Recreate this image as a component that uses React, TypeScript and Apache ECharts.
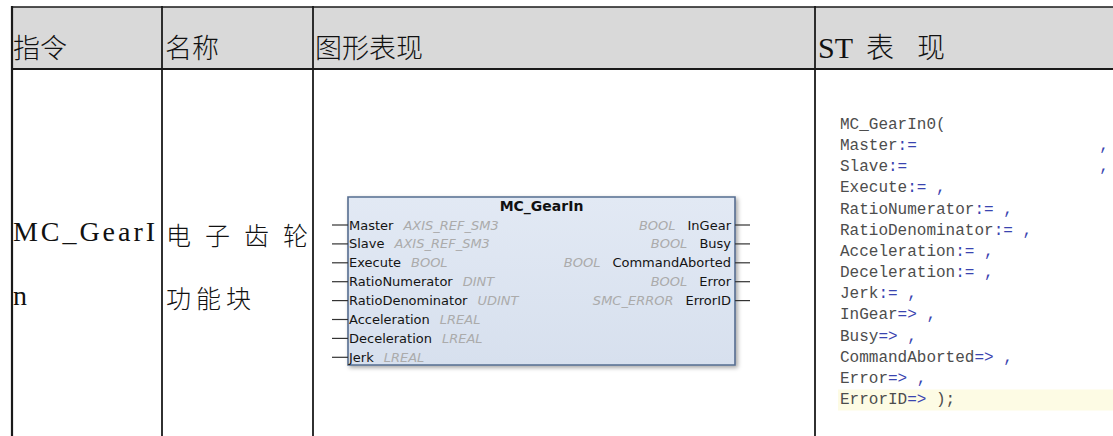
import React, { useEffect, useRef } from "react";
import * as echarts from "echarts";

// ---------- data ----------
const headerLabels = ["指令", "名称", "图形表现"];
const stHeaderParts = ["ST", "表", "现"];
const instrLines = ["MC_GearI", "n"];
const nameLines = ["电子齿轮", "功能块"];
const fbTitle = "MC_GearIn";
const inputNames = ["Master", "Slave", "Execute", "RatioNumerator", "RatioDenominator", "Acceleration", "Deceleration", "Jerk"];
const inputTypes = ["AXIS_REF_SM3", "AXIS_REF_SM3", "BOOL", "DINT", "UDINT", "LREAL", "LREAL", "LREAL"];
const outputNames = ["InGear", "Busy", "CommandAborted", "Error", "ErrorID"];
const outputTypes = ["BOOL", "BOOL", "BOOL", "BOOL", "SMC_ERROR"];
const stCall = "MC_GearIn0(";
const stParams = ["Master", "Slave", "Execute", "RatioNumerator", "RatioDenominator", "Acceleration", "Deceleration", "Jerk", "InGear", "Busy", "CommandAborted", "Error", "ErrorID"];
const stOps = [":=", ":=", ":=", ":=", ":=", ":=", ":=", ":=", "=>", "=>", "=>", "=>", "=>"];
const stGaps = ["                   ", "                    ", " ", " ", " ", " ", " ", " ", " ", " ", " ", " ", " "];
const stEnds = [",", ",", ",", ",", ",", ",", ",", ",", ",", ",", ",", ",", ");"];

// ---------- helpers ----------
const CJK = "'Noto Sans CJK SC', sans-serif";
const SERIF = "'Liberation Serif', serif";
const SANS = "'DejaVu Sans', sans-serif";
const MONO = "'Liberation Mono', monospace";

let ctx: CanvasRenderingContext2D | null = null;
function tw(text: string, font: string): number {
  if (!ctx) ctx = document.createElement("canvas").getContext("2d");
  ctx!.font = font;
  return ctx!.measureText(text).width;
}

function txt(text: string, x: number, y: number, font: string, fill: string, align = "left", extra: any = {}) {
  return {
    type: "text",
    x,
    y,
    silent: true,
    style: {
      text,
      font,
      fill,
      align,
      textAlign: align,
      verticalAlign: "middle",
      textVerticalAlign: "middle",
      ...extra,
    },
  };
}

function spread(text: string, x0: number, x1: number, y: number, font: string, fill: string) {
  const chars = Array.from(text);
  const ws = chars.map((c) => tw(c, font));
  const total = ws.reduce((a, b) => a + b, 0);
  const gap = chars.length > 1 ? (x1 - x0 - total) / (chars.length - 1) : 0;
  let x = x0;
  const out: any[] = [];
  chars.forEach((c, i) => {
    out.push(txt(c, x, y, font, fill));
    x += ws[i] + gap;
  });
  return out;
}

function spaced(text: string, x0: number, gap: number, y: number, font: string, fill: string) {
  const chars = Array.from(text);
  let x = x0;
  const out: any[] = [];
  chars.forEach((c) => {
    out.push(txt(c, x, y, font, fill));
    x += tw(c, font) + gap;
  });
  return out;
}

function line(x1: number, y1: number, x2: number, y2: number, stroke: string, lineWidth: number) {
  return { type: "line", silent: true, shape: { x1, y1, x2, y2 }, style: { stroke, lineWidth } };
}

function buildElements() {
  const els: any[] = [];
  const W = 1113;
  const H = 436;
  const tableLeft = 12;
  const top = 7;
  const headBottom = 69;
  const cols = [12, 162, 313, 815];

  // header background
  els.push({ type: "rect", silent: true, shape: { x: tableLeft, y: top, width: W - tableLeft, height: headBottom - top }, style: { fill: "#d9d9d9" } });
  // table lines
  els.push(line(tableLeft - 1, top, W, top, "#1a1a1a", 1.6));
  els.push(line(tableLeft - 1, headBottom, W, headBottom, "#1a1a1a", 1.8));
  cols.forEach((c) => els.push(line(c, top - 1, c, H, "#1a1a1a", c === 12 ? 2.2 : 1.8)));

  // header texts
  const hFont = `300 27px ${CJK}`;
  const hY = 46;
  els.push(txt(headerLabels[0], cols[0] + 1, hY, hFont, "#111"));
  els.push(txt(headerLabels[1], cols[1] + 3, hY, hFont, "#111"));
  els.push(txt(headerLabels[2], cols[2] + 2, hY, hFont, "#111"));
  els.push(txt(stHeaderParts[0], cols[3] + 3, 47, `30px ${SERIF}`, "#111"));
  els.push(txt(stHeaderParts[1], cols[3] + 51, hY, `300 28px ${CJK}`, "#111"));
  els.push(txt(stHeaderParts[2], cols[3] + 102, hY, `300 28px ${CJK}`, "#111"));

  // column 1 body
  const sFont = `28px ${SERIF}`;
  els.push(...spread(instrLines[0], 13, 155, 231.5, sFont, "#111"));
  els.push(txt(instrLines[1], 13, 295.5, sFont, "#111"));

  // column 2 body
  const cFont = `300 25px ${CJK}`;
  els.push(...spread(nameLines[0], 166, 308, 234, cFont, "#111"));
  els.push(...spaced(nameLines[1], 166, 5, 297, cFont, "#111"));

  // function block
  const bx = 348, by = 197, bw = 387, bh = 168;
  els.push({
    type: "rect",
    silent: true,
    shape: { x: bx, y: by, width: bw, height: bh },
    style: {
      fill: new echarts.graphic.LinearGradient(0, 0, 0, 1, [
        { offset: 0, color: "#e2e9f4" },
        { offset: 1, color: "#d7e0ee" },
      ]),
      stroke: "#566d90",
      lineWidth: 1.6,
      shadowBlur: 4,
      shadowOffsetX: 2,
      shadowOffsetY: 2,
      shadowColor: "rgba(0,0,0,0.35)",
    },
  });
  els.push(txt(fbTitle, bx + bw / 2, 206, `bold 14px ${SANS}`, "#111", "center"));
  const rowY0 = 225;
  const rowStep = 18.9;
  const nFont = `13px ${SANS}`;
  const tFont = `italic 13px ${SANS}`;
  inputNames.forEach((n, i) => {
    const y = rowY0 + i * rowStep;
    els.push(line(332, y, bx, y, "#333", 1.2));
    els.push(txt(n, bx + 1, y, nFont, "#141414"));
    els.push(txt(inputTypes[i], bx + 1 + tw(n, nFont) + 10, y, tFont, "#ababab"));
  });
  outputNames.forEach((n, i) => {
    const y = rowY0 + i * rowStep;
    els.push(line(bx + bw, y, 750, y, "#333", 1.2));
    els.push(txt(n, bx + bw - 4, y, nFont, "#141414", "right"));
    els.push(txt(outputTypes[i], bx + bw - 4 - tw(n, nFont) - 12, y, tFont, "#ababab", "right"));
  });

  // ST code
  const mFont = `16px ${MONO}`;
  const cx = 840;
  const cy0 = 125;
  const cStep = 21.15;
  const nameCol = "#4d4d4d";
  const opCol = "#3a44b0";
  const lastY = cy0 + stParams.length * cStep;
  els.push({ type: "rect", silent: true, shape: { x: cx - 2, y: lastY - 10.5, width: W - cx + 2, height: 21 }, style: { fill: "#fdfbe4" } });
  els.push(txt(stCall, cx, cy0, mFont, nameCol));
  stParams.forEach((p, i) => {
    const y = cy0 + (i + 1) * cStep;
    els.push(txt(p, cx, y, mFont, nameCol));
    const opX = cx + tw(p, mFont);
    els.push(txt(stOps[i], opX, y, mFont, opCol));
    const endX = opX + tw(stOps[i] + stGaps[i], mFont);
    els.push(txt(stEnds[i], endX, y, mFont, stEnds[i] === "," ? opCol : nameCol));
  });
  return els;
}

export default function App() {
  const ref = useRef<HTMLDivElement>(null);
  useEffect(() => {
    if (!ref.current) return;
    const chart = echarts.init(ref.current, undefined, { renderer: "svg" });
    chart.setOption({
      animation: false,
      backgroundColor: "#ffffff",
      graphic: { elements: buildElements() },
    });
    return () => chart.dispose();
  }, []);
  return (
    <div
      ref={ref}
      style={{ position: "fixed", left: 0, top: 0, width: 1113, height: 436, background: "#fff" }}
    />
  );
}
